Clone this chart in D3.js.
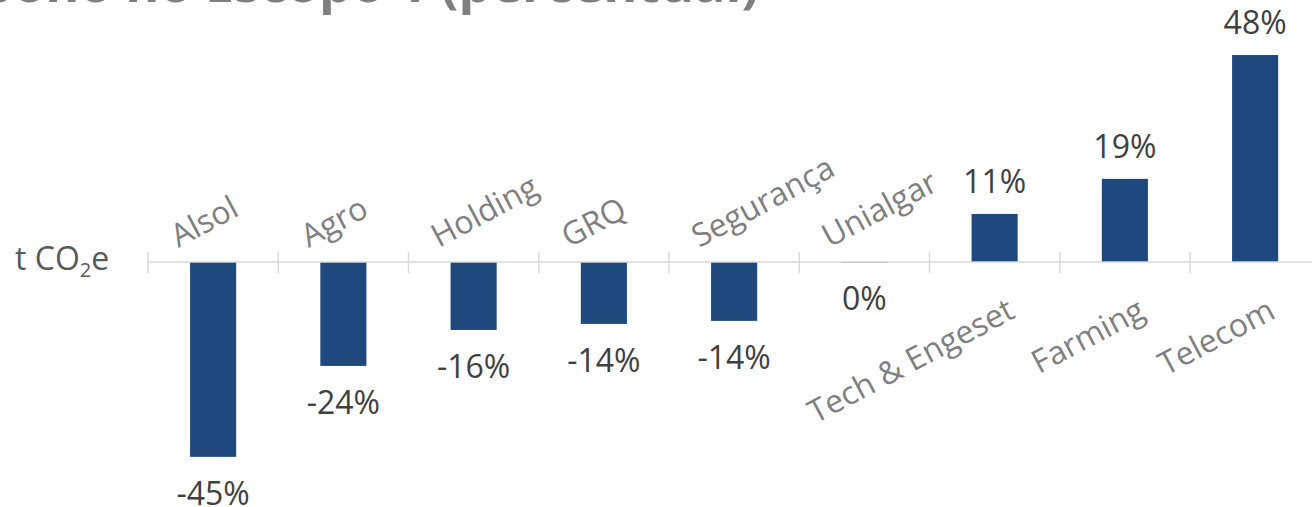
<!DOCTYPE html>
<html>
<head>
<meta charset="utf-8">
<script src="https://cdn.jsdelivr.net/npm/d3@7"></script>
<style>
  html, body { margin: 0; padding: 0; background: #ffffff; }
  svg { display: block; }
</style>
</head>
<body>
<div id="chart"></div>
<script>
const titleText = "Evolução das emissões de carbono no Escopo 1 (percentual)";
const categories = ["Alsol", "Agro", "Holding", "GRQ", "Segurança", "Unialgar", "Tech & Engeset", "Farming", "Telecom"];
const values = [-45, -24, -15.7, -14.3, -13.6, -0.1, 11.1, 19.2, 47.8];
const valueLabels = ["-45%", "-24%", "-16%", "-14%", "-14%", "0%", "11%", "19%", "48%"];
const unitLabel = ["t CO", "2", "e"];

const W = 1312, H = 507;
const font = "'Open Sans', 'DejaVu Sans', sans-serif";
const svg = d3.select("#chart").append("svg").attr("width", W).attr("height", H);

const x = d3.scaleBand().domain(categories).range([148, 148 + 9 * 130.25]).paddingInner(0).paddingOuter(0);
const y = d3.scaleLinear().domain([-50, 60]).range([262 + 50 * 4.33, 262 - 60 * 4.33]);
const barW = x.bandwidth() * 0.354;
const data = categories.map((c, i) => ({ c, v: values[i], label: valueLabels[i] }));

// title (cut off at top)
svg.append("text")
  .attr("x", 759).attr("y", 2)
  .attr("text-anchor", "end")
  .attr("font-family", font).attr("font-weight", "bold").attr("font-size", 52)
  .attr("fill", "#7f7f7f")
  .text(titleText);

// bars
svg.append("g").selectAll("rect").data(data).join("rect")
  .attr("x", d => x(d.c) + (x.bandwidth() - barW) / 2)
  .attr("y", d => y(Math.max(0, d.v)))
  .attr("width", barW)
  .attr("height", d => Math.max(0.6, Math.abs(y(d.v) - y(0))))
  .attr("fill", "#1F497D");

// axis line & ticks
const y0 = y(0);
svg.append("line")
  .attr("x1", x.range()[0]).attr("x2", W)
  .attr("y1", y0).attr("y2", y0)
  .attr("stroke", "#d9d9d9").attr("stroke-width", 1.5);
const tickPos = categories.map(c => x(c));
svg.append("g").selectAll("line").data(tickPos).join("line")
  .attr("x1", d => d).attr("x2", d => d)
  .attr("y1", y0 - 10).attr("y2", y0 + 11)
  .attr("stroke", "#d9d9d9").attr("stroke-width", 1.5);

// category labels
svg.append("g").selectAll("text").data(data).join("text")
  .attr("font-family", font).attr("font-size", 32).attr("fill", "#7f7f7f")
  .attr("text-anchor", d => d.v < 0 ? "start" : "end")
  .attr("transform", d => {
    const cx = x(d.c) + x.bandwidth() / 2;
    return d.v < 0 ? `translate(${cx - 35},${y0 - 14}) rotate(-28)` : `translate(${cx + 22},${y0 + 55}) rotate(-28)`;
  })
  .text(d => d.c);

// value labels
svg.append("g").selectAll("text").data(data).join("text")
  .attr("font-family", font).attr("font-size", 32).attr("fill", "#404040")
  .attr("text-anchor", "middle")
  .attr("x", d => x(d.c) + x.bandwidth() / 2)
  .attr("y", d => d.v < 0 ? y(d.v) + 48 : y(d.v) - 21)
  .text(d => d.label);

// unit label
const ut = svg.append("text")
  .attr("x", 15).attr("y", 270)
  .attr("font-family", font).attr("font-size", 32).attr("fill", "#595959");
ut.append("tspan").text(unitLabel[0]);
ut.append("tspan").attr("font-size", 20).attr("dy", 7).text(unitLabel[1]);
ut.append("tspan").attr("dy", -7).text(unitLabel[2]);
</script>
</body>
</html>
